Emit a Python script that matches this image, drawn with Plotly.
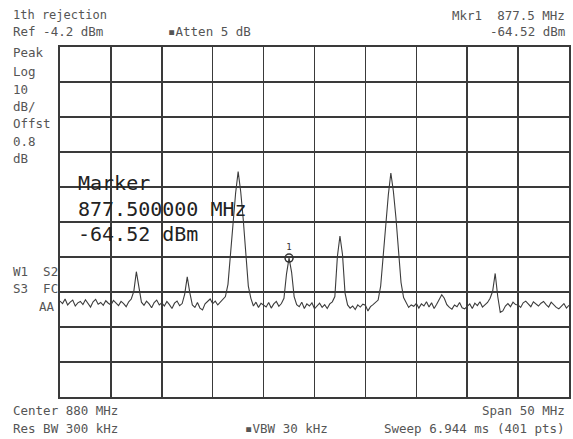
import plotly.graph_objects as go

# ---- data ----
start_mhz = 855.0
step_mhz = 0.25
level_dbm = [
    # 855.0 - 859.75
    -76.8, -77.5, -76.2, -77.9, -77.1, -76.5, -78.2, -77.3, -76.9, -77.8,
    -76.4, -77.6, -78.5, -77.0, -76.3, -77.7, -77.2, -78.0, -76.7, -77.4,
    # 860.0 - 864.75
    -77.9, -76.6, -77.3, -78.1, -76.9, -77.5, -78.4, -77.0, -76.2, -74.0,
    -68.4, -73.5, -77.1, -78.0, -76.8, -77.6, -78.7, -77.2, -76.5, -77.9,
    # 865.0 - 869.75
    -77.3, -78.2, -76.9, -77.8, -78.9, -77.4, -76.8, -78.1, -77.5, -74.8,
    -69.9, -74.4, -77.9, -78.6, -77.2, -78.8, -79.3, -77.6, -76.9, -76.2,
    # 870.0 - 874.75
    -77.5, -76.8, -77.9, -77.0, -76.4, -75.5, -72.0, -63.0, -54.0, -46.0,
    -39.8, -45.5, -53.5, -62.5, -72.5, -76.0, -78.2, -77.1, -78.6, -77.4,
    # 875.0 - 879.75
    -77.9, -78.5, -77.2, -78.8, -77.6, -76.9, -78.3, -77.5, -76.0, -69.0,
    -64.52, -68.5, -75.5, -77.8, -78.4, -77.1, -78.9, -77.6, -78.2, -77.3,
    # 880.0 - 884.75
    -79.0, -78.1, -77.4, -78.6, -77.8, -78.9, -77.6, -77.0, -75.5, -64.0,
    -58.2, -63.5, -74.5, -77.9, -78.8, -78.2, -79.2, -77.9, -78.5, -77.7,
    # 885.0 - 889.75
    -78.0, -79.6, -78.4, -77.8, -77.2, -76.5, -72.5, -63.5, -54.5, -46.5,
    -40.2, -45.5, -53.0, -62.0, -71.5, -75.8, -77.4, -78.6, -77.9, -78.3,
    # 890.0 - 894.75
    -77.5, -78.8, -77.6, -78.2, -77.0, -78.5, -77.3, -78.9, -77.7, -76.2,
    -75.0, -76.0, -77.8, -78.6, -79.1, -77.9, -78.4, -77.2, -78.7, -79.0,
    # 895.0 - 899.75
    -78.3, -77.6, -78.9, -77.4, -78.1, -77.0, -78.5, -77.8, -77.2, -76.0,
    -74.0, -68.9, -75.5, -80.0, -79.6, -78.2, -77.5, -78.4, -77.1, -77.8,
    # 900.0 - 905.0
    -77.9, -78.6, -77.3, -76.8, -77.7, -78.4, -77.0, -77.6, -78.2, -77.4,
    -76.9, -77.8, -78.5, -77.1, -77.9, -78.6, -79.0, -78.2, -77.5, -78.8,
    -78.0,
]
freq_mhz = [start_mhz + step_mhz * i for i in range(len(level_dbm))]

marker_freq = [877.5]
marker_level = [-64.52]
marker_label = ["1"]

ref_level = -4.2
db_per_div = 10
n_div = 10
center_mhz = 880.0
span_mhz = 50.0

# ---- layout geometry ----
W, H = 573, 439
L, R, T, B = 60, 2, 47, 42
PW, PH = W - L - R, H - T - B

def pap(px, py):
    return (px - L) / PW, (H - B - py) / PH

TXT = "#555555"
GRID = "#3a3a3a"
MONO = "DejaVu Sans Mono"

fig = go.Figure()
fig.add_trace(go.Scatter(
    x=freq_mhz, y=level_dbm, mode="lines",
    line=dict(color="#3c3c3c", width=1.1), hoverinfo="skip", showlegend=False,
))
fig.add_trace(go.Scatter(
    x=marker_freq, y=marker_level, mode="markers+text",
    marker=dict(symbol="circle-open", size=8, color="#333333", line=dict(width=1.5)),
    text=marker_label, textposition="top center",
    textfont=dict(family=MONO, size=9, color="#333333"),
    showlegend=False, hoverinfo="skip",
))

x0 = center_mhz - span_mhz / 2
x1 = center_mhz + span_mhz / 2
fig.update_xaxes(
    range=[x0, x1], tick0=x0, dtick=span_mhz / 10, showticklabels=False, ticks="",
    showgrid=True, gridcolor=GRID, gridwidth=1.5, zeroline=False,
    showline=True, linecolor=GRID, linewidth=2, mirror=True,
)
fig.update_yaxes(
    range=[ref_level - db_per_div * n_div, ref_level], tick0=ref_level, dtick=db_per_div,
    showticklabels=False, ticks="",
    showgrid=True, gridcolor=GRID, gridwidth=1.5, zeroline=False,
    showline=True, linecolor=GRID, linewidth=2, mirror=True,
)

annos = []
def txt(s, px, py, anchor="left", size=12.5, color=TXT, family=MONO):
    x, y = pap(px, py)
    annos.append(dict(text=s, x=x, y=y, xref="paper", yref="paper",
                      xanchor=anchor, yanchor="middle", showarrow=False,
                      font=dict(family=family, size=size, color=color)))

txt("1th rejection", 11, 15, size=12)
txt("Ref -4.2 dBm", 11, 32)
txt("▪Atten 5 dB", 166, 32)
txt("Mkr1  877.5 MHz", 569, 15, anchor="right")
txt("-64.52 dBm", 569, 32, anchor="right")
for s, py in [("Peak", 53), ("Log", 71), ("10", 89), ("dB/", 106),
              ("Offst", 124), ("0.8", 141), ("dB", 158)]:
    txt(s, 11, py)
txt("W1  S2", 11, 271)
txt("S3  FC", 11, 288)
txt("AA", 37, 306)
txt("Marker", 76, 183, size=20, color="#222222")
txt("877.500000 MHz", 76, 209, size=20, color="#222222")
txt("-64.52 dBm", 76, 234, size=20, color="#222222")
txt("Center 880 MHz", 11, 410)
txt("Res BW 300 kHz", 11, 428)
txt("▪VBW 30 kHz", 244, 428)
txt("Span 50 MHz", 569, 410, anchor="right")
txt("Sweep 6.944 ms (401 pts)", 569, 428, anchor="right")

fig.update_layout(
    width=W, height=H, autosize=False,
    margin=dict(l=L, r=R, t=T, b=B, pad=0),
    paper_bgcolor="white", plot_bgcolor="white",
    annotations=annos, showlegend=False,
)
fig.write_html(
    "out.html",
    config={"displayModeBar": False, "staticPlot": True},
    post_script="document.body.style.margin='0';document.body.style.overflow='hidden';",
)
